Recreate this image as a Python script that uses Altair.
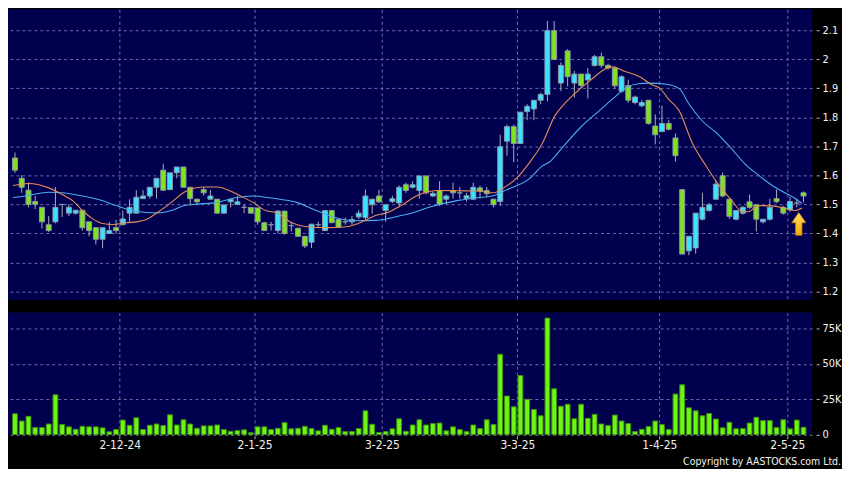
import json
import altair as alt
import pandas as pd

# ---------------- data ----------------
opens = [
    1.66, 1.59, 1.549, 1.51, 1.49, 1.43, 1.44, 1.50, 1.47, 1.47,
    1.48, 1.44, 1.42, 1.38, 1.40, 1.42, 1.43, 1.47, 1.47, 1.52,
    1.529, 1.559, 1.618, 1.551, 1.609, 1.629, 1.559, 1.518, 1.551, 1.518,
    1.518, 1.47, 1.509, 1.50, 1.49, 1.489, 1.488, 1.437, 1.43, 1.41,
    1.477, 1.427, 1.418, 1.39, 1.37, 1.43, 1.41, 1.479, 1.448, 1.44,
    1.44, 1.457, 1.455, 1.499, 1.529, 1.479, 1.51, 1.505, 1.568, 1.559,
    1.548, 1.598, 1.529, 1.548, 1.518, 1.548, 1.54, 1.52, 1.518, 1.557,
    1.548, 1.518, 1.51, 1.718, 1.768, 1.71, 1.82, 1.829, 1.859, 1.879,
    2.099, 1.918, 2.029, 1.918, 1.949, 1.929, 1.979, 2.009, 1.979, 1.97,
    1.89, 1.909, 1.851, 1.84, 1.859, 1.77, 1.751, 1.779, 1.729, 1.551,
    1.34, 1.35, 1.449, 1.479, 1.518, 1.599, 1.518, 1.449, 1.47, 1.509,
    1.499, 1.44, 1.449, 1.52, 1.49, 1.481, 1.505, 1.54,
]
highs = [
    1.679, 1.601, 1.576, 1.529, 1.49, 1.46, 1.56, 1.50, 1.50, 1.48,
    1.48, 1.44, 1.42, 1.42, 1.44, 1.447, 1.479, 1.518, 1.549, 1.549,
    1.559, 1.59, 1.64, 1.609, 1.629, 1.629, 1.559, 1.52, 1.56, 1.549,
    1.518, 1.50, 1.52, 1.53, 1.50, 1.489, 1.488, 1.44, 1.44, 1.48,
    1.477, 1.44, 1.418, 1.39, 1.432, 1.44, 1.48, 1.479, 1.448, 1.455,
    1.46, 1.48, 1.551, 1.52, 1.55, 1.50, 1.53, 1.565, 1.575, 1.58,
    1.60, 1.60, 1.545, 1.58, 1.535, 1.575, 1.56, 1.54, 1.575, 1.565,
    1.56, 1.52, 1.74, 1.775, 1.775, 1.818, 1.845, 1.86, 1.885, 2.132,
    2.132, 1.99, 2.035, 1.96, 1.95, 1.97, 2.015, 2.023, 1.985, 1.975,
    1.945, 1.93, 1.875, 1.86, 1.86, 1.81, 1.84, 1.79, 1.745, 1.551,
    1.39, 1.47, 1.54, 1.505, 1.584, 1.61, 1.52, 1.48, 1.495, 1.534,
    1.50, 1.45, 1.52, 1.551, 1.495, 1.525, 1.52, 1.545,
]
lows = [
    1.609, 1.54, 1.49, 1.484, 1.417, 1.405, 1.435, 1.457, 1.46, 1.465,
    1.41, 1.39, 1.362, 1.349, 1.40, 1.40, 1.43, 1.44, 1.47, 1.52,
    1.52, 1.52, 1.548, 1.551, 1.59, 1.559, 1.50, 1.50, 1.53, 1.518,
    1.469, 1.469, 1.49, 1.50, 1.47, 1.469, 1.43, 1.409, 1.41, 1.40,
    1.395, 1.407, 1.39, 1.35, 1.35, 1.42, 1.41, 1.437, 1.421, 1.43,
    1.43, 1.45, 1.445, 1.468, 1.505, 1.44, 1.505, 1.49, 1.54, 1.555,
    1.52, 1.535, 1.525, 1.495, 1.50, 1.52, 1.52, 1.51, 1.515, 1.52,
    1.525, 1.49, 1.495, 1.668, 1.646, 1.71, 1.79, 1.79, 1.845, 1.855,
    1.999, 1.89, 1.907, 1.868, 1.90, 1.865, 1.975, 1.97, 1.965, 1.90,
    1.885, 1.85, 1.845, 1.835, 1.775, 1.707, 1.75, 1.755, 1.648, 1.329,
    1.325, 1.33, 1.445, 1.475, 1.515, 1.525, 1.45, 1.445, 1.465, 1.485,
    1.407, 1.435, 1.445, 1.505, 1.465, 1.475, 1.49, 1.507,
]
closes = [
    1.618, 1.559, 1.50, 1.50, 1.44, 1.41, 1.49, 1.50, 1.49, 1.48,
    1.42, 1.41, 1.38, 1.42, 1.41, 1.41, 1.45, 1.49, 1.525, 1.529,
    1.559, 1.59, 1.549, 1.609, 1.629, 1.559, 1.52, 1.509, 1.54, 1.529,
    1.47, 1.498, 1.518, 1.509, 1.49, 1.47, 1.44, 1.41, 1.43, 1.477,
    1.40, 1.427, 1.39, 1.357, 1.432, 1.43, 1.479, 1.437, 1.421, 1.44,
    1.448, 1.47, 1.529, 1.518, 1.509, 1.499, 1.52, 1.559, 1.548, 1.568,
    1.598, 1.54, 1.538, 1.501, 1.529, 1.54, 1.54, 1.53, 1.559, 1.546,
    1.537, 1.499, 1.699, 1.768, 1.71, 1.818, 1.838, 1.859, 1.879, 2.099,
    1.999, 1.979, 1.94, 1.949, 1.91, 1.949, 2.009, 1.979, 1.97, 1.909,
    1.94, 1.859, 1.87, 1.851, 1.779, 1.74, 1.779, 1.759, 1.668, 1.329,
    1.39, 1.47, 1.49, 1.499, 1.57, 1.529, 1.459, 1.479, 1.49, 1.49,
    1.449, 1.449, 1.49, 1.509, 1.47, 1.51, 1.505, 1.529,
]
volumes = [
    14800, 9700, 13000, 5100, 5100, 7600, 28200, 7200, 5600, 3900,
    6000, 5600, 5600, 4900, 2100, 3700, 10400, 6700, 12000, 3700,
    6700, 7600, 6500, 14100, 6900, 10600, 7600, 4600, 6300, 6300,
    6900, 3700, 2500, 3000, 3500, 1400, 5600, 5600, 3700, 4600,
    8600, 4200, 4600, 6000, 4400, 2800, 6700, 3900, 5100, 2300,
    2300, 4400, 16900, 7400, 1600, 2300, 4200, 11300, 2500, 6900,
    10600, 6900, 7900, 8300, 2800, 5600, 3700, 2300, 6900, 4400,
    10600, 7200, 56700, 27300, 19700, 41700, 25000, 17800, 13400, 82200,
    32400, 20100, 21500, 11300, 21500, 11600, 14400, 7600, 6500, 13900,
    9700, 7900, 2300, 3900, 5800, 9700, 7200, 3700, 28700, 35200,
    19000, 16900, 13400, 15000, 11100, 4900, 8800, 4200, 4400, 8300,
    12300, 10000, 10000, 5100, 10600, 4200, 10400, 5300,
]

# moving averages (bar position, price)
ma_short_pos = [-0.3, 2, 5, 7, 8.6, 10, 11.5, 13, 14.5, 16.5, 18, 19.3, 21.2, 23.2, 25.1,
                26.1, 28, 30, 32, 33.3, 35.3, 37.2, 39, 40.8, 43.3, 46.2, 49.1, 51.5, 53.5,
                55.4, 57.2, 60, 62.8, 65.7, 68.6, 71, 72.5, 74.4, 76.4, 78.2, 80.1, 81.9,
                83.7, 85.5, 87.5, 88.7, 90.3, 92.7, 94.5, 95.7, 97, 98.5, 100.5, 102.5,
                104.4, 106.4, 107.8, 108.8, 110.3, 112.2, 114.2, 115.6, 116.8]
ma_short_val = [1.565, 1.572, 1.557, 1.534, 1.512, 1.479, 1.451, 1.434, 1.431, 1.437, 1.44,
                1.446, 1.473, 1.507, 1.542, 1.553, 1.56, 1.56, 1.546, 1.531, 1.507, 1.479,
                1.47, 1.44, 1.423, 1.42, 1.423, 1.44, 1.462, 1.473, 1.495, 1.534, 1.548,
                1.547, 1.546, 1.54, 1.557, 1.59, 1.646, 1.708, 1.805, 1.856, 1.895, 1.93,
                1.966, 1.974, 1.96, 1.94, 1.912, 1.9, 1.862, 1.825, 1.712, 1.634, 1.568,
                1.512, 1.477, 1.475, 1.496, 1.495, 1.488, 1.479, 1.488]
ma_long_pos = [-0.3, 2, 5, 7, 9.6, 12.5, 15, 17.3, 19.5, 21.2, 23.2, 25.1, 27.1, 30, 32.8,
               35.3, 37.7, 39.5, 41.8, 44.7, 47.5, 50.5, 53.5, 55.5, 57.3, 58.5, 61.4,
               65.8, 68.6, 70.8, 73, 76.4, 78.2, 79.3, 81, 83.9, 86.8, 88.9, 90.9, 92.5,
               94, 96.7, 98.6, 100, 101.9, 104.4, 106.4, 108.3, 110.3, 112.2, 114.2,
               115.6, 116.8]
ma_long_val = [1.524, 1.531, 1.542, 1.54, 1.531, 1.516, 1.496, 1.479, 1.472, 1.471, 1.479,
               1.496, 1.501, 1.507, 1.523, 1.529, 1.523, 1.517, 1.507, 1.479, 1.455, 1.444,
               1.445, 1.452, 1.462, 1.468, 1.49, 1.514, 1.523, 1.529, 1.551, 1.59, 1.632,
               1.646, 1.69, 1.765, 1.825, 1.868, 1.905, 1.916, 1.918, 1.914, 1.898, 1.846,
               1.79, 1.74, 1.69, 1.64, 1.601, 1.568, 1.54, 1.523, 1.503]

date_tick_pos = [15.55, 35.55, 54.45, 74.55, 95.6, 114.6]
date_tick_labels = ["2-12-24", "2-1-25", "3-2-25", "3-3-25", "1-4-25", "2-5-25"]
price_ticks = [1.2, 1.3, 1.4, 1.5, 1.6, 1.7, 1.8, 1.9, 2.0, 2.1]
volume_ticks = [0, 25000, 50000, 75000]
arrow_pos = [116.3]
arrow_price = [1.433]
copyright_text = ["Copyright by AASTOCKS.com Ltd."]

# ---------------- styling ----------------
NAVY = "#00004f"
GRID = "#6e6ea6"
CYAN = "#3ae4ff"
GREEN = "#80e41c"
DOJI = "#a8b0c0"
OUTLINE = "#8a96a8"
WICK = "#a8aebe"
VOL_FILL = "#6ef514"
VOL_EDGE = "#3c900c"
ORANGE = "#e68c56"
BLUE = "#4aaef0"
LABEL = "#f2f2f2"
FONT = "DejaVu Sans Condensed, Liberation Sans Narrow, DejaVu Sans"

W = 809
H_PRICE = 292
H_VOL = 123
X_DOMAIN = [-0.3, 117.55]

df = pd.DataFrame({
    "i": list(range(len(closes))),
    "open": opens, "high": highs, "low": lows, "close": closes,
    "volume": volumes,
})
df["dir"] = ["up" if c > o else ("down" if c < o else "flat") for o, c in zip(opens, closes)]

xs = alt.Scale(domain=X_DOMAIN, nice=False, zero=False)
ys = alt.Scale(domain=[1.172, 2.172], nice=False, zero=False)
vs = alt.Scale(domain=[0, 86100], nice=False)

x_axis_top = alt.Axis(values=date_tick_pos, labels=False, ticks=False, domain=False,
                      grid=True, title=None)
y_axis_price = alt.Axis(orient="right", values=price_ticks, format=".1~f", grid=True,
                        domain=False, tickSize=3, offset=4, labelPadding=3,
                        labelOverlap=False, title=None)

label_expr = f"{json.dumps(date_tick_labels)}[indexof({json.dumps(date_tick_pos)}, datum.value)]"
x_axis_bottom = alt.Axis(values=date_tick_pos, labelExpr=label_expr, grid=True, domain=False,
                         ticks=True, tickSize=3, offset=1, labelPadding=1, labelFontSize=12,
                         labelAngle=0, labelOverlap=False, title=None)
y_axis_vol = alt.Axis(orient="right", values=volume_ticks,
                      labelExpr="datum.value == 0 ? '0' : format(datum.value / 1000, 'd') + 'K'",
                      grid=True, domain=False, tickSize=3, offset=4, labelPadding=3,
                      labelOverlap=False, title=None)


def px(field="i:Q"):
    return alt.X(field, scale=xs, axis=x_axis_top)


def py(field):
    return alt.Y(field, scale=ys, axis=y_axis_price)


wicks = alt.Chart(df).mark_rule(color=WICK, strokeWidth=1, clip=True).encode(
    x=px(), y=py("low:Q"), y2="high:Q",
)
bodies = alt.Chart(df).mark_bar(size=5, stroke=OUTLINE, strokeWidth=1, clip=True).encode(
    x=px(), y=py("open:Q"), y2="close:Q",
    color=alt.Color("dir:N", scale=alt.Scale(domain=["up", "down", "flat"],
                                             range=[CYAN, GREEN, DOJI]), legend=None),
)
ma_long = alt.Chart(pd.DataFrame({"i": ma_long_pos, "v": ma_long_val})).mark_line(
    color=BLUE, strokeWidth=1.1, interpolate="monotone", clip=True).encode(
    x=px(), y=py("v:Q"))
ma_short = alt.Chart(pd.DataFrame({"i": ma_short_pos, "v": ma_short_val})).mark_line(
    color=ORANGE, strokeWidth=1.1, interpolate="monotone", clip=True).encode(
    x=px(), y=py("v:Q"))
arrow_fill = alt.Gradient(
    gradient="linear", x1=0, y1=0, x2=0, y2=1,
    stops=[alt.GradientStop(color="#ffe066", offset=0),
           alt.GradientStop(color="#f5a800", offset=1)],
)
arrow = alt.Chart(pd.DataFrame({"i": arrow_pos, "p": arrow_price})).mark_point(
    shape="M0,-1L0.62,-0.1L0.28,-0.1L0.28,1L-0.28,1L-0.28,-0.1L-0.62,-0.1Z",
    size=520, filled=True, fill=arrow_fill, stroke="#c58600", strokeWidth=0.8, opacity=1,
).encode(x=px(), y=py("p:Q"))

price = alt.layer(wicks, bodies, ma_long, ma_short, arrow).properties(width=W, height=H_PRICE)

vol_bars = alt.Chart(df).mark_bar(size=4.8, color=VOL_FILL, stroke=VOL_EDGE, strokeWidth=1,
                                  clip=True).encode(
    x=alt.X("i:Q", scale=xs, axis=x_axis_bottom),
    y=alt.Y("volume:Q", scale=vs, axis=y_axis_vol),
)
copyright_mark = alt.Chart(pd.DataFrame({"t": copyright_text})).mark_text(
    align="right", baseline="alphabetic", font=FONT, fontSize=10.5, color=LABEL,
).encode(text="t:N", x=alt.value(838), y=alt.value(153))

volume = alt.layer(vol_bars, copyright_mark).properties(width=W, height=H_VOL)

chart = alt.vconcat(price, volume, spacing=13).properties(
    background="#000000", padding=0
).configure_view(
    fill=NAVY, strokeWidth=0
).configure_axis(
    gridColor=GRID, gridDash=[3, 3], gridWidth=1, gridOpacity=1,
    labelColor=LABEL, labelFont=FONT, labelFontSize=11, tickColor="#b8b8c8",
)

chart.save("out.html", embed_options={"renderer": "svg", "actions": False})
